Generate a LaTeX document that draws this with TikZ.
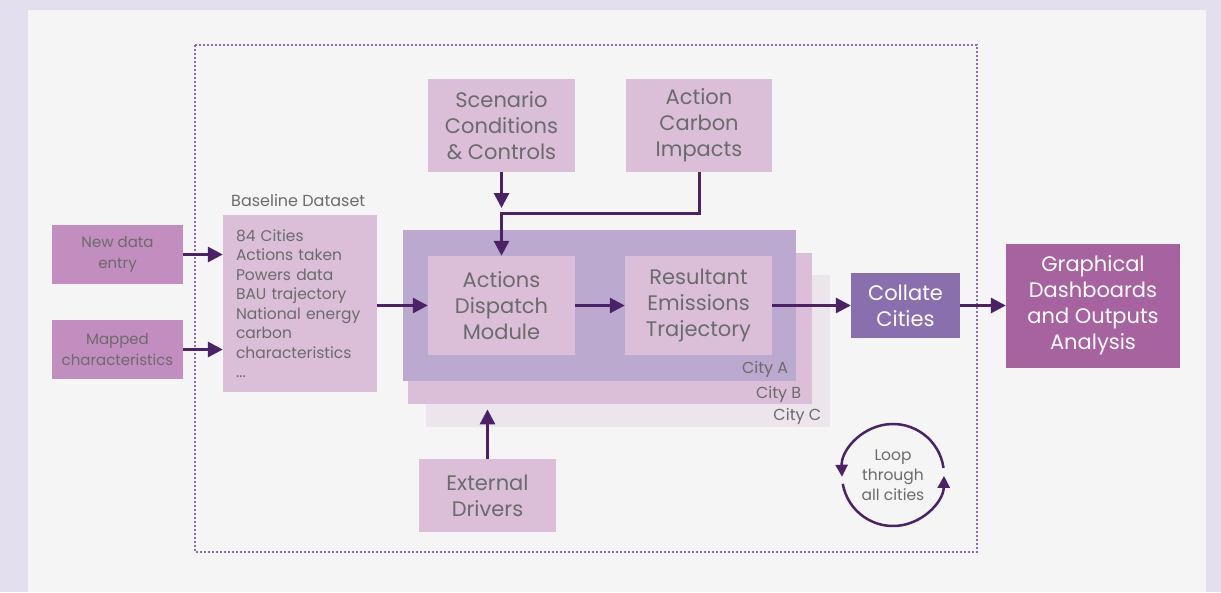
\documentclass[tikz,border=0pt]{standalone}
\usepackage{fontspec}
\setmainfont{Poppins}
\usetikzlibrary{arrows.meta}
\definecolor{bgouter}{HTML}{E3DFEF}
\definecolor{bgpanel}{HTML}{F5F5F5}
\definecolor{lightpink}{HTML}{DBBFD9}
\definecolor{midpink}{HTML}{C18EBF}
\definecolor{citya}{HTML}{BBA9CF}
\definecolor{cityc}{HTML}{ECE5EC}
\definecolor{collate}{HTML}{8A6FAE}
\definecolor{outputs}{HTML}{A762A0}
\definecolor{arrowc}{HTML}{4A2265}
\definecolor{dotc}{HTML}{8C6BB0}
\definecolor{txt}{HTML}{6B6B6B}
\begin{document}
\begin{tikzpicture}[x=1pt,y=-1pt,
    box/.style={fill=lightpink,text=txt,align=center,inner sep=0pt,font=\fontsize{21}{26}\selectfont},
    smallbox/.style={fill=midpink,text=txt,align=center,inner sep=0pt,font=\fontsize{15}{21}\selectfont},
    citybox/.style={inner sep=0pt,anchor=north west},
    citylabel/.style={text=txt,anchor=base east,inner sep=0pt,font=\fontsize{16}{18}\selectfont},
    flow/.style={draw=arrowc,line width=3pt,-{Triangle[length=15pt,width=15pt]}},
    loopflow/.style={draw=arrowc,line width=2.5pt,-{Triangle[length=12pt,width=12pt]}}]
        \fill[bgouter] (0,0) rectangle (1221,592);
        \fill[bgpanel] (28,10) rectangle (1206,592);
        \draw[dotc,line width=2pt,dash pattern=on 2pt off 2pt] (195,45) rectangle (977,552);
        \node[citybox,fill=cityc,minimum width=404pt,minimum height=152pt] (cityC) at (426,275) {};
        \node[citybox,fill=lightpink,minimum width=404pt,minimum height=151pt] (cityB) at (408,253) {};
        \node[citybox,fill=citya,minimum width=393pt,minimum height=151pt] (cityA) at (403,230) {};
        \node[citylabel] (labA) at ([shift={(-8,-8)}]cityA.south east) {City A};
        \node[citylabel] (labB) at ([shift={(-11,-6)}]cityB.south east) {City B};
        \node[citylabel] (labC) at ([shift={(-9,-7)}]cityC.south east) {City C};
        \node[box,minimum width=147pt,minimum height=93pt] (scen) at (501.5,125.5) {Scenario\\Conditions\\\& Controls};
        \node[box,minimum width=146pt,minimum height=93pt] (act) at (699,125.5) {Action\\Carbon\\Impacts};
        \node[box,minimum width=147pt,minimum height=99pt] (adm) at (501.5,305.5) {Actions\\Dispatch\\Module};
        \node[box,minimum width=147pt,minimum height=99pt] (ret) at (698.5,305.5) {Resultant\\Emissions\\Trajectory};
        \node[box,minimum width=137pt,minimum height=73pt] (ext) at (487.5,495.5) {External\\Drivers};
        \node[box,minimum width=154pt,minimum height=177pt,align=left,text width=128pt,
            font=\fontsize{15.5}{19.5}\selectfont] (base) at (300,303.5)
            {84 Cities\\Actions taken\\Powers data\\BAU trajectory\\National energy\\carbon\\characteristics\\...};
        \node[text=txt,anchor=base west,inner sep=0pt,font=\fontsize{16}{18}\selectfont] (basetitle) at (231,206) {Baseline Dataset};
        \node[smallbox,minimum width=131pt,minimum height=59pt] (newd) at (117.5,254.5) {New data\\entry};
        \node[smallbox,minimum width=131pt,minimum height=59pt] (mapc) at (117.5,349.5) {Mapped\\characteristics};
        \node[box,fill=collate,text=white,minimum width=109pt,minimum height=65pt] (coll) at (905.5,305.5) {Collate\\Cities};
        \node[box,fill=outputs,text=white,minimum width=174pt,minimum height=124pt] (graph) at (1093,305.5) {Graphical\\Dashboards\\and Outputs\\Analysis};
        \coordinate (join) at (501.5,213);
        \coordinate (loopc) at (893,475);
        \node[text=txt,align=center,inner sep=0pt,font=\fontsize{15.5}{20}\selectfont] (looptxt) at (loopc) {Loop\\through\\all cities};
        \draw[flow] (newd.east) -- (newd.east -| base.west);
        \draw[flow] (mapc.east) -- (mapc.east -| base.west);
        \draw[flow] (base.east |- adm.west) -- (adm.west);
        \draw[flow] (adm) -- (ret);
        \draw[flow] (ret) -- (coll);
        \draw[flow] (coll) -- (graph);
        \draw[flow] (scen) -- ([yshift=5pt]join);
        \draw[flow] (act.south) |- (join) -- (adm.north);
        \draw[flow,shorten >=5pt] (ext) -- (ext.north |- cityB.south);
        \draw[loopflow] ([shift={(-8:51)}]loopc) arc[start angle=-8,end angle=-182,radius=51];
        \draw[loopflow] ([shift={(-190:51)}]loopc) arc[start angle=-190,end angle=-359,radius=51];
    \end{tikzpicture}
\end{document}
